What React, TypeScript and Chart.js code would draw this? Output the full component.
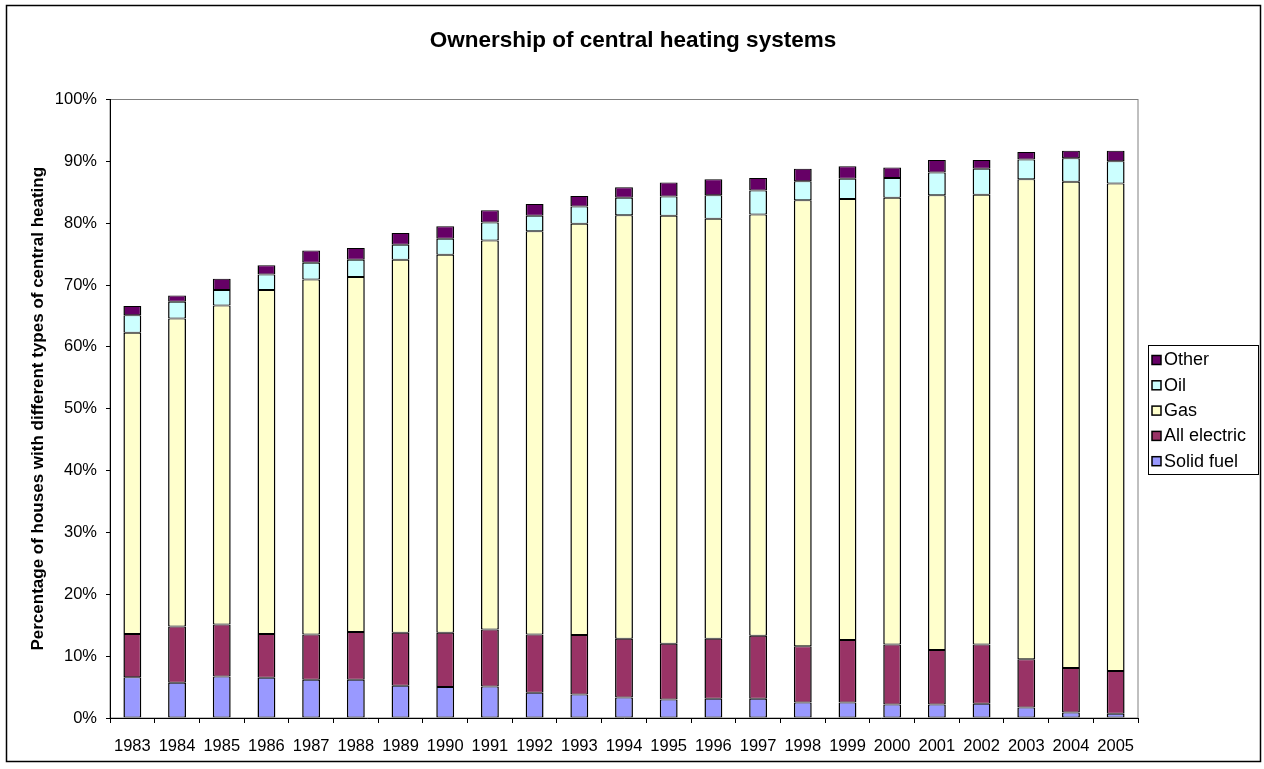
import { useEffect, useRef } from "react";
import { Chart, registerables } from "chart.js";

Chart.register(...registerables);

const years = ["1983","1984","1985","1986","1987","1988","1989","1990","1991","1992","1993","1994","1995","1996","1997","1998","1999","2000","2001","2002","2003","2004","2005"];
const solidFuel = [6.6,5.7,6.7,6.5,6.2,6.2,5.2,5.0,5.1,4.1,3.8,3.3,3.0,3.1,3.1,2.5,2.5,2.2,2.2,2.3,1.7,0.9,0.7];
const allElectric = [7.0,9.1,8.4,7.1,7.3,7.7,8.6,8.8,9.2,9.4,9.6,9.5,9.0,9.7,10.2,9.1,10.1,9.7,8.8,9.6,7.8,7.2,6.9];
const gas = [48.7,49.8,51.6,55.6,57.4,57.4,60.3,61.1,62.9,65.2,66.5,68.5,69.2,67.9,68.1,72.1,71.3,72.2,73.5,72.7,77.6,78.6,78.8];
const oil = [2.8,2.7,2.5,2.5,2.7,2.8,2.4,2.6,2.9,2.5,2.8,2.8,3.1,3.8,3.9,3.1,3.3,3.2,3.7,4.2,3.2,3.8,3.6];
const other = [1.5,1.0,1.8,1.5,2.0,1.9,1.9,2.0,2.0,1.9,1.7,1.7,2.3,2.6,2.0,2.0,2.0,1.7,2.0,1.4,1.2,1.2,1.7];

const seriesLabels = ["Solid fuel", "All electric", "Gas", "Oil", "Other"];
const seriesColors = ["#9999FF", "#993366", "#FFFFCC", "#CCFFFF", "#660066"];

const titleText = "Ownership of central heating systems";
const yAxisTitle = "Percentage of houses with different types of central heating";

const FONT = "Arial, 'Liberation Sans', sans-serif";

const decorPlugin = {
  id: "decor",
  beforeDraw(chart: any) {
    const ctx = chart.ctx;
    ctx.save();
    ctx.fillStyle = "#ffffff";
    ctx.fillRect(0, 0, chart.width, chart.height);
    const a = chart.chartArea;
    ctx.strokeStyle = "#808080";
    ctx.lineWidth = 1;
    ctx.strokeRect(a.left, a.top, a.right - a.left, a.bottom - a.top);
    ctx.restore();
  },
  afterDraw(chart: any) {
    const ctx = chart.ctx;
    ctx.save();
    // outer frame
    ctx.strokeStyle = "#000000";
    ctx.lineWidth = 1.5;
    ctx.strokeRect(6.5, 5.5, 1254, 756);
    // title
    ctx.fillStyle = "#000000";
    ctx.font = "bold 22.5px " + FONT;
    ctx.textAlign = "center";
    ctx.textBaseline = "middle";
    ctx.fillText(titleText, 633, 41);
    // legend
    const lx = 1148, ly = 345, lw = 110, lh = 129;
    ctx.lineWidth = 1;
    ctx.strokeStyle = "#000000";
    ctx.strokeRect(lx + 0.5, ly + 0.5, lw, lh);
    ctx.font = "18px " + FONT;
    ctx.textAlign = "left";
    const ds = chart.data.datasets;
    for (let i = ds.length - 1, k = 0; i >= 0; i--, k++) {
      const cy = 360 + k * 25.3;
      ctx.fillStyle = ds[i].backgroundColor;
      ctx.fillRect(1152, cy - 4.5, 9, 9);
      ctx.strokeStyle = "#000000";
      ctx.lineWidth = 1.5;
      ctx.strokeRect(1152, cy - 4.5, 9, 9);
      ctx.fillStyle = "#000000";
      ctx.fillText(ds[i].label, 1164, cy + 0.5);
    }
    ctx.restore();
  },
};

export default function App() {
  const ref = useRef<HTMLCanvasElement | null>(null);
  useEffect(() => {
    if (!ref.current) return;
    const seriesData = [solidFuel, allElectric, gas, oil, other];
    const chart = new Chart(ref.current, {
      type: "bar",
      data: {
        labels: years,
        datasets: seriesData.map((d, i) => ({
          label: seriesLabels[i],
          data: d,
          backgroundColor: seriesColors[i],
          borderColor: "#000000",
          borderWidth: { top: 1, bottom: 1, left: 1.5, right: 1.5 },
          borderSkipped: false,
          categoryPercentage: 1,
          barPercentage: 0.4,
        })),
      },
      options: {
        responsive: false,
        animation: false,
        layout: { padding: { top: 99.5, left: 0, right: 126, bottom: 0 } },
        plugins: {
          legend: { display: false },
          title: { display: false },
          tooltip: { enabled: false },
        },
        scales: {
          x: {
            stacked: true,
            afterFit: (s: any) => { s.height = 51; },
            border: { color: "#000000", width: 1 },
            grid: { display: true, drawOnChartArea: false, drawTicks: true, tickLength: 5, color: "#000000", offset: true },
            ticks: { color: "#000000", font: { family: FONT, size: 16.5 }, padding: 14, maxRotation: 0, autoSkip: false },
          },
          y: {
            stacked: true,
            min: 0,
            max: 100,
            afterFit: (s: any) => { s.width = 110; },
            border: { color: "#000000", width: 1 },
            grid: { display: true, drawOnChartArea: false, drawTicks: true, tickLength: 4, color: "#000000" },
            ticks: {
              stepSize: 10,
              color: "#000000",
              font: { family: FONT, size: 16.5 },
              padding: 9,
              callback: (v: any) => v + "%",
            },
            title: {
              display: true,
              text: yAxisTitle,
              color: "#000000",
              font: { family: FONT, size: 17, weight: "bold" },
              padding: { top: 28, bottom: 0 },
            },
          },
        },
      },
      plugins: [decorPlugin],
    });
    return () => chart.destroy();
  }, []);
  return (
    <div style={{ position: "absolute", left: 0, top: 0, width: 1264, height: 769 }}>
      <canvas ref={ref} width={1264} height={769} style={{ display: "block" }} />
    </div>
  );
}
